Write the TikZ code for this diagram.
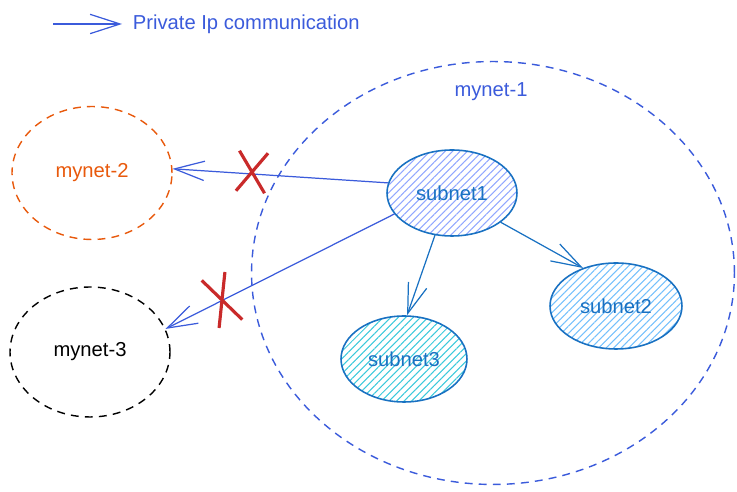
\documentclass[tikz,border=0pt]{standalone}
\usepackage{fontspec}
\setmainfont{Liberation Sans}
\usetikzlibrary{shapes.geometric, shapes.misc, arrows.meta, patterns.meta}
\definecolor{netblue}{RGB}{59,91,219}
\definecolor{netorange}{RGB}{232,89,12}
\definecolor{subblue}{RGB}{25,113,194}
\definecolor{crossred}{RGB}{201,42,42}
\definecolor{hatchindigo}{RGB}{145,167,255}
\definecolor{hatchblue}{RGB}{116,192,252}
\definecolor{hatchcyan}{RGB}{59,201,219}

\begin{document}
\begin{tikzpicture}[
    x=0.02cm, y=-0.02cm,
    font=\fontsize{11.5}{13}\selectfont,
    network/.style={ellipse, draw, dash pattern=on 4.5pt off 3.5pt, line width=0.8pt, inner sep=0pt},
    subnet/.style={ellipse, draw=subblue, line width=0.9pt, text=subblue, inner sep=0pt, minimum width=2.6cm, minimum height=1.72cm},
    hatch/.style={pattern={Lines[angle=45, distance=3pt, line width=0.6pt]}, pattern color=#1},
    arrow/.style={-{Straight Barb[length=17pt, width=11pt]}, line width=0.7pt},
    blocked/.style={cross out, draw=crossred, line width=1.8pt, inner sep=0pt}
]
    \useasboundingbox (0,0) rectangle (737,492);

    \coordinate (legstart) at (53,24);
    \node[anchor=west, text=netblue, inner sep=6pt] (legend) at (122,24) {Private Ip communication};

    \node[network, draw=netblue, minimum width=9.66cm, minimum height=8.46cm] (mynet1) at (493,273) {};
    \node[text=netblue] (mynet1title) at (491,92) {mynet-1};
    \node[network, draw=netorange, text=netorange, minimum width=3.2cm, minimum height=2.66cm] (mynet2) at (92,173) {mynet-2};
    \node[network, draw=black, minimum width=3.2cm, minimum height=2.6cm] (mynet3) at (90,352) {mynet-3};

    \node[subnet, hatch=hatchindigo] (subnet1) at (452,193) {subnet1};
    \node[subnet, hatch=hatchblue, minimum width=2.64cm] (subnet2) at (616,306) {subnet2};
    \node[subnet, hatch=hatchcyan, minimum width=2.52cm] (subnet3) at (404,359) {subnet3};

    \draw[arrow, netblue] (legstart) -- (legend.west);
    \draw[arrow, netblue] (subnet1.171) -- (mynet2.3);
    \draw[arrow, netblue] (subnet1.200) -- (mynet3.17);
    \draw[arrow, subblue] (subnet1.248) -- (subnet3.86);
    \draw[arrow, subblue] (subnet1.329) -- (subnet2.131);

    \node[blocked, rotate=-5, minimum width=0.51cm, minimum height=0.74cm] (block2) at (252,172) {};
    \node[blocked, rotate=20, minimum width=0.43cm, minimum height=0.95cm] (block3) at (222,300) {};
\end{tikzpicture}
\end{document}
